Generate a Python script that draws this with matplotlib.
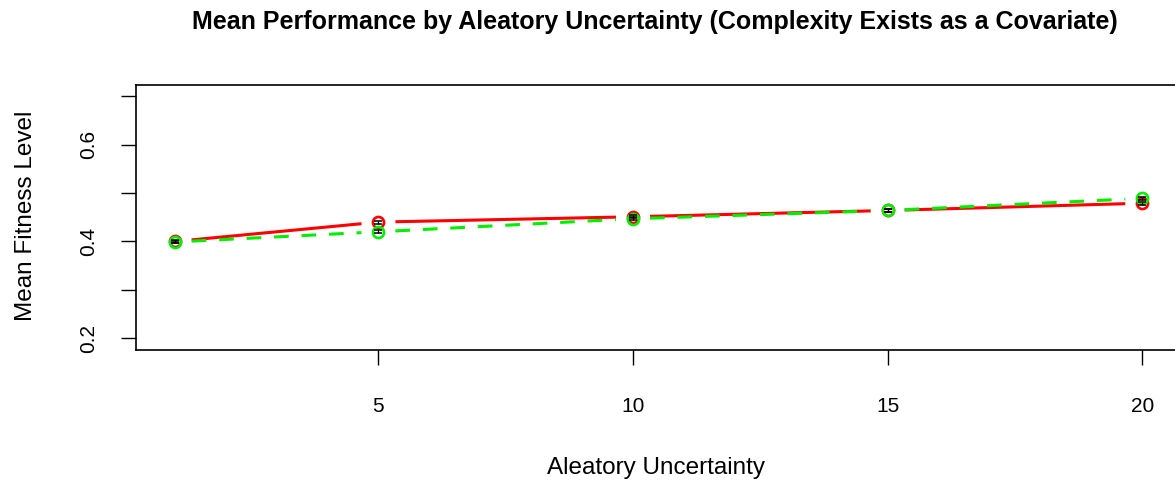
import numpy as np
import matplotlib
matplotlib.use("Agg")
import matplotlib.pyplot as plt

plt.rcParams['font.family'] = ['Liberation Sans', 'DejaVu Sans']

# Mean fitness by aleatory uncertainty level, two groups
uncertainty = [1, 5, 10, 15, 20]
fitness_red = [0.400, 0.440, 0.451, 0.464, 0.479]
fitness_green = [0.399, 0.420, 0.447, 0.464, 0.489]
se_red = [0.003, 0.003, 0.003, 0.003, 0.003]
se_green = [0.003, 0.003, 0.003, 0.003, 0.003]

x_ticks = [5, 10, 15, 20]
y_ticks = [0.2, 0.3, 0.4, 0.5, 0.6, 0.7]
y_ticklabels = ['0.2', '', '0.4', '', '0.6', '']

W, H, DPI = 1175, 486, 100
fig = plt.figure(figsize=(W / DPI, H / DPI), dpi=DPI)
left, right, bottom, top = 136, 1181, 350, 85
ax = fig.add_axes([left / W, (H - bottom) / H, (right - left) / W, (bottom - top) / H])
ax.set_xlim(0.24, 20.76)
ax.set_ylim(0.176, 0.723)
fig.canvas.draw()


def gapped_line(x, y, gap_px, **kw):
    """Connect consecutive points with segments that stop short of each point."""
    pts = ax.transData.transform(np.column_stack([x, y]))
    inv = ax.transData.inverted()
    for p0, p1 in zip(pts[:-1], pts[1:]):
        d = p1 - p0
        L = np.hypot(*d)
        if L <= 2 * gap_px:
            continue
        u = d / L
        a = inv.transform(p0 + u * gap_px)
        b = inv.transform(p1 - u * gap_px)
        ax.plot([a[0], b[0]], [a[1], b[1]], **kw)


lw = 2.2
gapped_line(uncertainty, fitness_red, 17, color='#ff0000', lw=lw, solid_capstyle='butt')
ax.plot(uncertainty, fitness_red, 'o', ms=8, mfc='none', mec='#ff0000', mew=1.9)
gapped_line(uncertainty, fitness_green, 17, color='#00ee00', lw=lw,
            dashes=(4.8, 4.2), dash_capstyle='butt')
ax.plot(uncertainty, fitness_green, 'o', ms=8, mfc='none', mec='#00ee00', mew=1.9)

for vals, err in ((fitness_red, se_red), (fitness_green, se_green)):
    ax.errorbar(uncertainty, vals, yerr=err, fmt='none', ecolor='black',
                elinewidth=0.9, capsize=3.2, capthick=1.1)

ax.set_xticks(x_ticks)
ax.set_xticklabels([str(v) for v in x_ticks])
ax.set_yticks(y_ticks)
ax.set_yticklabels(y_ticklabels, rotation=90, va='center')
ax.tick_params(axis='both', direction='out', length=11, width=1, colors='black',
               labelsize=15)
ax.tick_params(axis='x', pad=23)
ax.tick_params(axis='y', pad=16)
for s in ax.spines.values():
    s.set_linewidth(1.2)
    s.set_color('black')

fig.text(655 / W, 1 - 22 / H, 'Mean Performance by Aleatory Uncertainty (Complexity Exists as a Covariate)',
         ha='center', va='center', fontsize=18, fontweight='bold')
fig.text(656 / W, 1 - 468 / H, 'Aleatory Uncertainty', ha='center', va='center', fontsize=17.5)
fig.text(26 / W, 1 - 216 / H, 'Mean Fitness Level', ha='center', va='center',
         rotation=90, fontsize=17.5)

fig.savefig('out.png', dpi=DPI)
